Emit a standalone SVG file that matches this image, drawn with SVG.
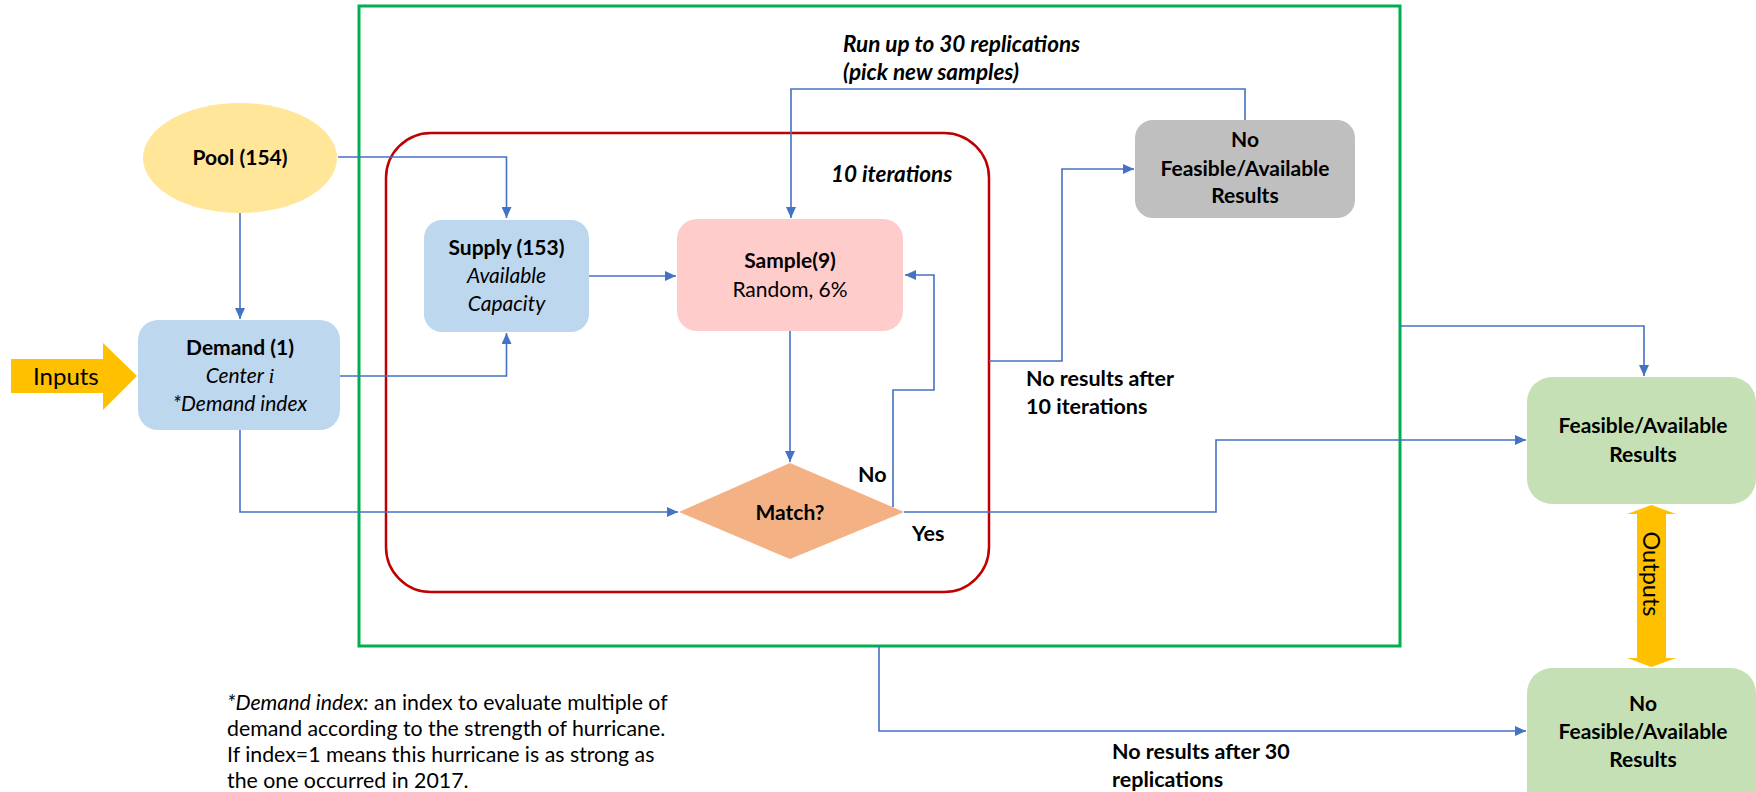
<svg xmlns="http://www.w3.org/2000/svg" width="1756" height="792" viewBox="0 0 1756 792">
<style>
text{font-family:Lato,"Liberation Sans",sans-serif;fill:#000}
.n{font-size:21px;text-anchor:middle}
.b{font-weight:bold}
.i{font-style:italic}
.c{fill:none;stroke:#4472C4;stroke-width:1.6}
.lbl{font-size:21.5px;font-weight:bold}
.it{font-size:22.5px}
.fn{font-size:21.3px}
</style>
<defs>
<marker id="ah" markerUnits="userSpaceOnUse" markerWidth="12" markerHeight="10" refX="11" refY="5" orient="auto">
<path d="M0,0 L11,5 L0,10 Z" fill="#4472C4"/>
</marker>
</defs>
<rect width="1756" height="792" fill="#fff"/>
<g id="frame-replications"><rect x="359" y="6" width="1041" height="640" fill="none" stroke="#00B050" stroke-width="3"/></g>
<g id="frame-iterations"><rect x="386" y="133" width="603" height="459" rx="45" fill="none" stroke="#C00000" stroke-width="2.5"/></g>

<g id="connectors">
<path class="c" d="M240,213 V319" marker-end="url(#ah)"/>
<path class="c" d="M338,157 H506.5 V218" marker-end="url(#ah)"/>
<path class="c" d="M340,376 H506.5 V333" marker-end="url(#ah)"/>
<path class="c" d="M589,276 H676" marker-end="url(#ah)"/>
<path class="c" d="M790,331 V462" marker-end="url(#ah)"/>
<path class="c" d="M240,430 V512 H678" marker-end="url(#ah)"/>
<path class="c" d="M893,507 V390 H934 V275 H905" marker-end="url(#ah)"/>
<path class="c" d="M904,512 H1216 V440 H1526" marker-end="url(#ah)"/>
<path class="c" d="M989,361 H1062 V169 H1134" marker-end="url(#ah)"/>
<path class="c" d="M1245,120 V89 H791 V218" marker-end="url(#ah)"/>
<path class="c" d="M1400,326 H1644 V376" marker-end="url(#ah)"/>
<path class="c" d="M879,646 V731 H1526" marker-end="url(#ah)"/>
</g>

<g id="inputs">
<polygon points="11,359 103,359 103,343 137,376 103,410 103,393 11,393" fill="#FFC000"/>
<text x="33" y="385" style="font-size:24px">Inputs</text>
</g>

<g id="pool">
<ellipse cx="240" cy="158" rx="97" ry="55" fill="#FFE699"/>
<text class="n b" x="240" y="165">Pool (154)</text>
</g>

<g id="demand">
<rect x="138" y="320" width="202" height="110" rx="20" fill="#BDD7EE"/>
<text class="n b" x="240" y="355">Demand (1)</text>
<text class="n i" x="240" y="383">Center <tspan style="font-family:'Liberation Serif',serif">i</tspan></text>
<text class="n i" x="240" y="411">*Demand index</text>
</g>

<g id="supply">
<rect x="424" y="220" width="165" height="112" rx="18" fill="#BDD7EE"/>
<text class="n b" x="506.5" y="255">Supply (153)</text>
<text class="n i" x="506.5" y="283">Available</text>
<text class="n i" x="506.5" y="311">Capacity</text>
</g>

<g id="sample">
<rect x="677" y="219" width="226" height="112" rx="20" fill="#FFCCCC"/>
<text class="n b" x="790" y="268">Sample(9)</text>
<text class="n" x="790" y="297">Random, 6%</text>
</g>

<g id="match">
<polygon points="790,463 904,512 790,559 679,512" fill="#F4B183"/>
<text class="n b" x="790" y="520">Match?</text>
</g>

<g id="no-results-gray">
<rect x="1135" y="120" width="220" height="98" rx="18" fill="#BFBFBF"/>
<text class="n b" x="1245" y="147">No</text>
<text class="n b" x="1245" y="176">Feasible/Available</text>
<text class="n b" x="1245" y="203">Results</text>
</g>

<g id="feasible">
<rect x="1527" y="377" width="229" height="127" rx="25" fill="#C5E0B4"/>
<text class="n b" x="1643" y="433">Feasible/Available</text>
<text class="n b" x="1643" y="462">Results</text>
</g>

<g id="outputs">
<polygon points="1651.5,505 1676,514 1666,514 1666,658 1676,658 1651.5,667 1627,658 1637,658 1637,514 1627,514" fill="#FFC000"/>
<text x="0" y="0" transform="translate(1643,574) rotate(90)" style="font-size:23.5px;text-anchor:middle">Outputs</text>
</g>

<g id="no-feasible">
<rect x="1527" y="668" width="229" height="160" rx="25" fill="#C5E0B4"/>
<text class="n b" x="1643" y="711">No</text>
<text class="n b" x="1643" y="739">Feasible/Available</text>
<text class="n b" x="1643" y="767">Results</text>
</g>

<g id="labels">
<text class="lbl i it" x="843" y="52">Run up to 30 replications</text>
<text class="lbl i it" x="843" y="80">(pick new samples)</text>
<text class="lbl i it" x="831" y="182">10 iterations</text>
<text class="lbl" x="858" y="482">No</text>
<text class="lbl" x="912" y="541">Yes</text>
<text class="lbl" x="1026" y="386">No results after</text>
<text class="lbl" x="1026" y="414">10 iterations</text>
<text class="lbl" x="1112" y="759">No results after 30</text>
<text class="lbl" x="1112" y="787">replications</text>
</g>

<g id="footnote">
<text class="fn" x="227" y="710"><tspan font-style="italic">*Demand index:</tspan> an index to evaluate multiple of</text>
<text class="fn" x="227" y="736">demand according to the strength of hurricane.</text>
<text class="fn" x="227" y="762">If index=1 means this hurricane is as strong as</text>
<text class="fn" x="227" y="788">the one occurred in 2017.</text>
</g>
</svg>
